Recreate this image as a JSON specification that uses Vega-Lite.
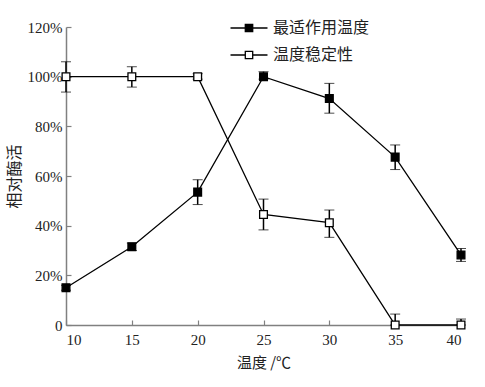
{
  "$schema": "https://vega.github.io/schema/vega-lite/v6.json",
  "width": 395,
  "height": 298,
  "autosize": "none",
  "padding": {"left": 66, "top": 27, "right": 24, "bottom": 62},
  "background": "white",
  "config": {
    "view": {"stroke": null},
    "axis": {
      "domainColor": "#808080",
      "domainWidth": 1.5,
      "tickColor": "#808080",
      "tickWidth": 1.2,
      "tickSize": -5,
      "grid": false,
      "labelFont": "Liberation Serif",
      "labelFontSize": 15,
      "labelColor": "#222",
      "titleFont": "Noto Sans CJK SC",
      "titleFontSize": 15,
      "titleFontWeight": "normal",
      "titleColor": "#222"
    },
    "legend": {
      "labelFont": "Noto Sans CJK SC",
      "labelFontSize": 16,
      "labelColor": "#222"
    }
  },
  "data": {
    "values": [
      {"t": 10, "s": "最适作用温度", "v": 15, "lo": 14, "hi": 16},
      {"t": 15, "s": "最适作用温度", "v": 31.5, "lo": 30, "hi": 33},
      {"t": 20, "s": "最适作用温度", "v": 53.5, "lo": 48.5, "hi": 58.5},
      {"t": 25, "s": "最适作用温度", "v": 100, "lo": 99, "hi": 102},
      {"t": 30, "s": "最适作用温度", "v": 91.2, "lo": 85.3, "hi": 97.3},
      {"t": 35, "s": "最适作用温度", "v": 67.6, "lo": 62.6, "hi": 72.5},
      {"t": 40, "s": "最适作用温度", "v": 28.2, "lo": 25.6, "hi": 30.8},
      {"t": 10, "s": "温度稳定性", "v": 100, "lo": 93.8, "hi": 106},
      {"t": 15, "s": "温度稳定性", "v": 100, "lo": 95.8, "hi": 104},
      {"t": 20, "s": "温度稳定性", "v": 100, "lo": 99, "hi": 101.2},
      {"t": 25, "s": "温度稳定性", "v": 44.5, "lo": 38.3, "hi": 50.7},
      {"t": 30, "s": "温度稳定性", "v": 41.2, "lo": 35.3, "hi": 46.3},
      {"t": 35, "s": "温度稳定性", "v": 0, "lo": 0, "hi": 4.4},
      {"t": 40, "s": "温度稳定性", "v": 0, "lo": 0, "hi": 2.4}
    ]
  },
  "encoding": {
    "x": {
      "field": "t",
      "type": "quantitative",
      "scale": {"domain": [10, 40], "nice": false, "zero": false},
      "axis": {"values": [10, 15, 20, 25, 30, 35, 40], "title": "温度 /℃", "labelPadding": 12, "titlePadding": 8}
    }
  },
  "layer": [
    {
      "mark": {"type": "line", "color": "black", "strokeWidth": 1.3},
      "encoding": {
        "y": {
          "field": "v",
          "type": "quantitative",
          "scale": {"domain": [0, 120], "nice": false},
          "axis": {
            "values": [0, 20, 40, 60, 80, 100, 120],
            "labelExpr": "datum.value == 0 ? '0' : datum.value + '%'",
            "title": "相对酶活",
            "titleFontSize": 16,
            "labelPadding": 9,
            "titlePadding": 5
          }
        },
        "detail": {"field": "s"}
      }
    },
    {
      "mark": {"type": "errorbar", "ticks": {"size": 10, "color": "black", "strokeWidth": 1.5}, "rule": {"color": "black", "strokeWidth": 1.5}},
      "encoding": {
        "y": {"field": "lo", "type": "quantitative", "title": "相对酶活"},
        "y2": {"field": "hi"},
        "detail": {"field": "s"}
      }
    },
    {
      "mark": {"type": "point", "shape": "square", "size": 60, "stroke": "black", "strokeWidth": 1.3, "filled": true, "opacity": 1},
      "encoding": {
        "y": {"field": "v", "type": "quantitative"},
        "fill": {
          "field": "s",
          "type": "nominal",
          "scale": {"domain": ["最适作用温度", "温度稳定性"], "range": ["black", "white"]},
          "legend": {
            "title": null,
            "orient": "none",
            "legendX": 173,
            "legendY": -9,
            "symbolType": "M-2,0H-0.4M0.4,0H2M-0.4,-0.4H0.4V0.4H-0.4Z",
            "symbolSize": 342,
            "symbolStrokeColor": "black",
            "symbolStrokeWidth": 1.3,
            "symbolOpacity": 1,
            "labelOffset": 14,
            "rowPadding": 9
          }
        }
      }
    }
  ]
}
